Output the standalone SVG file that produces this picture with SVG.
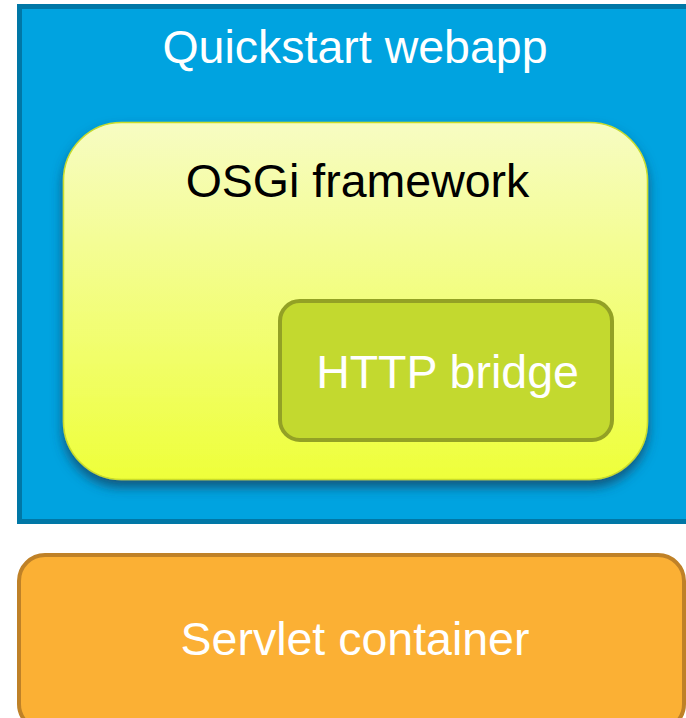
<svg xmlns="http://www.w3.org/2000/svg" width="686" height="718" viewBox="0 0 686 718">
<defs>
<linearGradient id="yg" x1="0" y1="0" x2="0" y2="1">
<stop offset="0" stop-color="#F7FCC3"/>
<stop offset="1" stop-color="#EEFF3A"/>
</linearGradient>
<filter id="sh" x="-10%" y="-10%" width="120%" height="130%">
<feDropShadow dx="0" dy="7" stdDeviation="6" flood-color="#1B3D5C" flood-opacity="0.75"/>
</filter>
<style>
text{font-family:"Liberation Sans",Arial,sans-serif;font-size:46.5px;text-anchor:middle}
.w{fill:#FFFFFF}
.k{fill:#000000}
</style>
</defs>
<rect width="686" height="718" fill="#FFFFFF"/>
<g id="quickstart-webapp">
<rect x="19.5" y="6.5" width="700" height="515" fill="#00A3E0" stroke="#0077A6" stroke-width="5"/>
<text class="w" x="355" y="63">Quickstart webapp</text>
</g>
<g id="osgi-framework">
<rect x="63.5" y="122.5" width="584" height="357" rx="58" ry="58" fill="url(#yg)" stroke="#C9DC2C" stroke-width="1.5" filter="url(#sh)"/>
<text class="k" x="357.5" y="197">OSGi framework</text>
</g>
<g id="http-bridge">
<rect x="280" y="301" width="332" height="139" rx="20" ry="20" fill="#C3D92F" stroke="#93A125" stroke-width="4"/>
<text class="w" x="447.5" y="388">HTTP bridge</text>
</g>
<g id="servlet-container">
<rect x="19" y="555" width="665" height="175" rx="26" ry="26" fill="#FBB034" stroke="#BF8127" stroke-width="4"/>
<text class="w" x="355" y="655">Servlet container</text>
</g>
<g id="connectors"/>
</svg>
